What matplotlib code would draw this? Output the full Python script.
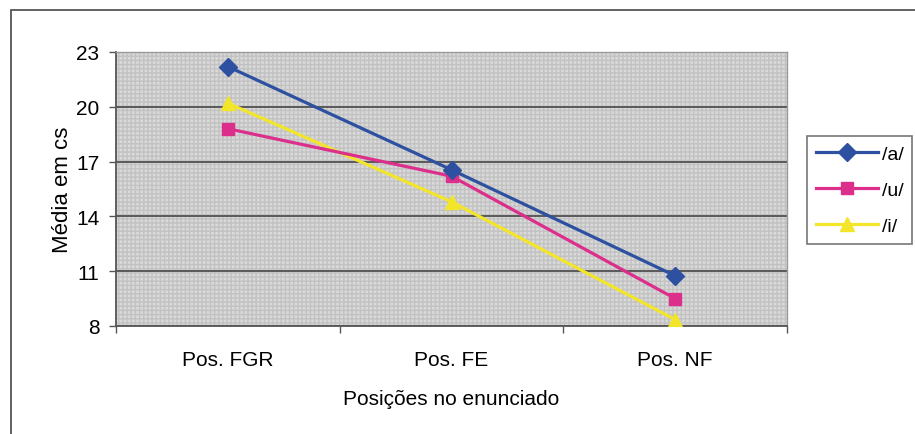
import matplotlib
matplotlib.use("Agg")
import matplotlib.pyplot as plt
from matplotlib.patches import Rectangle

# data
positions = ["Pos. FGR", "Pos. FE", "Pos. NF"]
vowel_a = [22.2, 16.55, 10.75]
vowel_u = [18.8, 16.2, 9.5]
vowel_i = [20.2, 14.8, 8.35]
labels = ["/a/", "/u/", "/i/"]
yticks = [8, 11, 14, 17, 20, 23]

plt.rcParams['font.family'] = ['Liberation Sans', 'DejaVu Sans']

fig = plt.figure(figsize=(9.15, 4.35), dpi=100)
ax = fig.add_axes([0.1268, 0.2483, 0.7333, 0.6299])

# gray hatched plot area like the old excel chart
ax.set_facecolor('#d9d9d9')
bg = Rectangle((0, 0), 1, 1, transform=ax.transAxes, facecolor='none',
               edgecolor='#c2c2c2', hatch='++++', lw=0, zorder=0)
ax.add_patch(bg)

x = range(len(positions))
ax.plot(x, vowel_a, color='#2d51a0', lw=2.3, marker='D', ms=9.5, label=labels[0], zorder=5)
ax.plot(x, vowel_u, color='#dc2f8c', lw=2.3, marker='s', ms=9, label=labels[1], zorder=4)
ax.plot(x, vowel_i, color='#f3e52a', lw=2.3, marker='^', ms=10, label=labels[2], zorder=3)

ax.set_xlim(-0.5, 2.5)
ax.set_ylim(8, 23)
ax.set_yticks(yticks)
ax.set_yticklabels([str(v) for v in yticks], fontsize=15)
ax.set_xticks(list(x))
ax.set_xticklabels(positions, fontsize=15)
ax.set_xticks([-0.5, 0.5, 1.5, 2.5], minor=True)
ax.tick_params(axis='x', which='major', length=0, pad=17)
ax.tick_params(axis='x', which='minor', length=5, width=1, color='#555555')
ax.tick_params(axis='y', length=5, width=1, color='#555555', pad=7)

ax.yaxis.grid(True, color='#505050', lw=1.3)
ax.set_axisbelow(True)
for side in ['left', 'bottom']:
    ax.spines[side].set_color('#555555')
    ax.spines[side].set_linewidth(1.3)
for side in ['top', 'right']:
    ax.spines[side].set_color('#9a9a9a')
    ax.spines[side].set_linewidth(1)

ax.set_ylabel("Média em cs", fontsize=16, labelpad=2)
ax.set_xlabel("Posições no enunciado", fontsize=15, labelpad=15)

leg = fig.legend(loc='center left', bbox_to_anchor=(0.882, 0.561), fontsize=14,
                 frameon=True, fancybox=False, edgecolor='#555555', handlelength=3.2,
                 handletextpad=0.2, labelspacing=0.95, borderpad=0.45, borderaxespad=0)
leg.get_frame().set_linewidth(1.2)

# outer chart frame (only top and left are in view)
fig.patches.append(Rectangle((11 / 915, -0.1), 1.2, 1.1 - 11 / 435, transform=fig.transFigure,
                             fill=False, edgecolor='#555555', lw=1.3))

fig.savefig("out.png", dpi=100, facecolor='white')
